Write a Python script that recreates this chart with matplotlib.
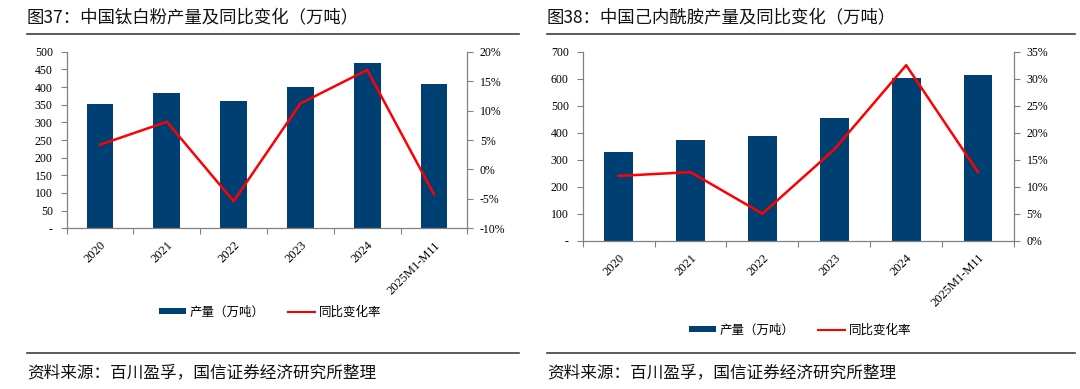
import matplotlib
matplotlib.use('Agg')
import matplotlib.pyplot as plt
from matplotlib.patches import Patch
from matplotlib.lines import Line2D
from matplotlib.ticker import FixedLocator, FuncFormatter
import numpy as np

categories = ['2020', '2021', '2022', '2023', '2024', '2025M1-M11']
tio2_output = [352, 382, 360, 400, 469, 409]
tio2_yoy = [4.2, 8.1, -5.4, 11.2, 16.9, -4.2]
cpl_output = [330, 372, 389, 454, 601, 615]
cpl_yoy = [12.0, 12.7, 5.0, 16.9, 32.5, 12.7]

title_left = '图37：中国钛白粉产量及同比变化（万吨）'
title_right = '图38：中国己内酰胺产量及同比变化（万吨）'
source_text = '资料来源：百川盈孚，国信证券经济研究所整理'
legend_bar = '产量（万吨）'
legend_line = '同比变化率'

BAR = '#003F72'
RED = '#FF0000'
SPINE = '#808080'
W, H = 1080, 389

cjk = ['Noto Sans CJK SC', 'DejaVu Sans']
serif = 'Liberation Serif'

fig = plt.figure(figsize=(W / 100, H / 100), dpi=100)


def fx(px):
    return px / W


def fy(py):
    return 1 - py / H


def panel(rect, output, yoy, ylim, ystep, y2lim, y2step, legend_xy):
    ax = fig.add_axes(rect)
    x = np.arange(len(categories))
    ax.bar(x, output, width=0.4, color=BAR, zorder=2)
    ax.set_xlim(-0.5, len(categories) - 0.5)
    ax.set_ylim(*ylim)
    ax.yaxis.set_major_locator(FixedLocator(np.arange(ylim[0], ylim[1] + 1, ystep)))
    ax.yaxis.set_major_formatter(FuncFormatter(lambda v, p: '-' if v == 0 else f'{v:.0f}'))
    ax.xaxis.set_major_locator(FixedLocator(np.arange(-0.5, len(categories), 1)))
    ax.xaxis.set_major_formatter(FuncFormatter(lambda v, p: ''))
    ax.set_xticks(x, minor=True)
    ax.set_xticklabels(categories, minor=True, rotation=45, ha='right', va='top',
                       rotation_mode='anchor', fontfamily=serif, fontsize=9)
    ax.tick_params(axis='x', which='minor', length=0, pad=8)
    ax.tick_params(axis='x', which='major', length=4, color=SPINE, direction='out')
    ax.tick_params(axis='y', length=4, color=SPINE, direction='out', labelsize=8.5, pad=6)
    for lab in ax.get_yticklabels():
        lab.set_fontfamily(serif)
    for s in ['top', 'right']:
        ax.spines[s].set_visible(False)
    for s in ['left', 'bottom']:
        ax.spines[s].set_color(SPINE)
        ax.spines[s].set_linewidth(0.9)

    ax2 = ax.twinx()
    ax2.plot(x, yoy, color=RED, lw=1.8, zorder=3)
    ax2.set_ylim(*y2lim)
    ax2.yaxis.set_major_locator(FixedLocator(np.arange(y2lim[0], y2lim[1] + 0.1, y2step)))
    ax2.yaxis.set_major_formatter(FuncFormatter(lambda v, p: f'{v:.0f}%'))
    ax2.tick_params(axis='y', length=4, color=SPINE, direction='out', labelsize=8.5, pad=5)
    for lab in ax2.get_yticklabels():
        lab.set_fontfamily(serif)
    for s in ['top', 'left', 'bottom']:
        ax2.spines[s].set_visible(False)
    ax2.spines['right'].set_color(SPINE)
    ax2.spines['right'].set_linewidth(0.9)

    handles = [Patch(facecolor=BAR, edgecolor='none'),
               Line2D([0], [0], color=RED, lw=1.5)]
    fig.legend(handles, [legend_bar, legend_line], loc='center',
               bbox_to_anchor=legend_xy, ncol=2, frameon=False,
               prop={'family': cjk, 'size': 9}, handlelength=2.2,
               handleheight=0.35, handletextpad=0.3, columnspacing=1.8)
    return ax


panel([fx(66.7), fy(228.3), fx(400.6), 176.6 / H], tio2_output, tio2_yoy,
      (0, 500), 50, (-10, 20), 5, (fx(270), fy(312)))
panel([fx(582.7), fy(240.7), fx(431.3), 189 / H], cpl_output, cpl_yoy,
      (0, 700), 100, (0, 35), 5, (fx(800), fy(330)))

# titles, rules and sources
for x0, x1, title in [(27, 519, title_left), (547, 1075, title_right)]:
    fig.text(fx(x0), fy(17), title, fontsize=12.5, family=cjk, va='center', ha='left',
             color='#111111')
    fig.add_artist(Line2D([fx(x0), fx(x1)], [fy(34), fy(34)], color='#404040', lw=1.2))
    fig.add_artist(Line2D([fx(x0), fx(x1)], [fy(353), fy(353)], color='#404040', lw=1.2))
    fig.text(fx(x0), fy(373), source_text, fontsize=12, family=cjk, va='center', ha='left',
             color='#111111')

fig.savefig('out.png', dpi=100)
